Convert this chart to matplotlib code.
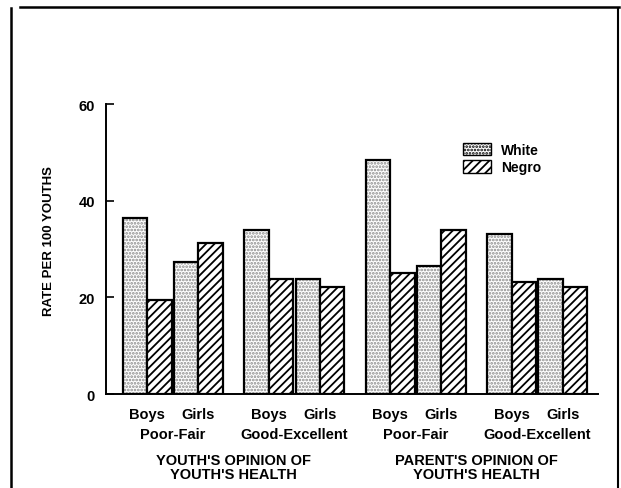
import matplotlib.pyplot as plt
from matplotlib.lines import Line2D
from matplotlib.patches import Patch

plt.rcParams['font.family'] = ['Liberation Sans', 'DejaVu Sans']
plt.rcParams['hatch.linewidth'] = 1.3

# values per group: boys white, boys negro, girls white, girls negro
groups = ['Poor-Fair', 'Good-Excellent', 'Poor-Fair', 'Good-Excellent']
sexes = ['Boys', 'Girls']
white = [36.4, 27.4, 34.0, 23.8, 48.4, 26.4, 33.1, 23.9]
negro = [19.5, 31.2, 23.8, 22.2, 25.0, 34.0, 23.1, 22.2]
panels = ["YOUTH'S OPINION OF\nYOUTH'S HEALTH", "PARENT'S OPINION OF\nYOUTH'S HEALTH"]

DOTS = '.....'
STRIPES = '////'

fig = plt.figure(figsize=(6.21, 4.89), dpi=100)
ax = fig.add_axes([0.1707, 0.1922, 0.963 - 0.1707, 0.785 - 0.1922])

# bar left edges, width 1: 4 bars per group, groups 5 apart
xw, xn = [], []
for g in range(4):
    for s, off in enumerate([0.0, 2.1]):
        xw.append(5 * g + off)
        xn.append(5 * g + off + 1)

# stipple in grey, then black outlines on top
ax.bar(xw, white, width=1, align='edge', color='white', edgecolor='#8a8a8a',
       hatch=DOTS, linewidth=0)
ax.bar(xw, white, width=1, align='edge', fill=False, edgecolor='black', linewidth=1.6)
ax.bar(xn, negro, width=1, align='edge', color='white', edgecolor='black',
       hatch=STRIPES, linewidth=1.6)

ax.set_xlim(-0.7, 19.55)
ax.set_ylim(0, 60)
ax.set_yticks([0, 20, 40, 60])
ax.tick_params(axis='y', direction='in', length=6, width=1.2, pad=8, labelsize=10.5)
ax.set_yticklabels(['0', '20', '40', '60'], fontweight='bold')
ax.set_xticks([])
for sp in ['top', 'right']:
    ax.spines[sp].set_visible(False)
ax.spines['left'].set_linewidth(1.4)
ax.spines['bottom'].set_linewidth(1.4)

ax.set_ylabel('RATE PER 100 YOUTHS', fontsize=9.5, fontweight='bold')
ax.yaxis.set_label_coords(-0.104, 0.53)

# category labels below axis
trans = ax.get_xaxis_transform()
for g in range(4):
    for s, off in enumerate([0.0, 2.1]):
        ax.text(5 * g + off + 1, -0.045, sexes[s], transform=trans, ha='center', va='top',
                fontsize=10.5, fontweight='bold')
    ax.text(5 * g + 2.05, -0.115, groups[g], transform=trans, ha='center', va='top',
            fontsize=10.5, fontweight='bold')
for p in range(2):
    ax.text(10 * p + 4.55, -0.205, panels[p], transform=trans, ha='center', va='top',
            fontsize=10.5, fontweight='bold', linespacing=1.0)

handles = [Patch(facecolor='white', edgecolor='black', hatch=DOTS, label='White'),
           Patch(facecolor='white', edgecolor='black', hatch=STRIPES, label='Negro')]
ax.legend(handles=handles, loc='upper left', bbox_to_anchor=(0.712, 0.89), frameon=False,
          prop={'size': 10, 'weight': 'bold'}, handlelength=2.0, handleheight=1.0,
          handletextpad=0.7, labelspacing=0.25, borderpad=0)

# page frame
fig.add_artist(Line2D([11 / 621, 11 / 621], [0, 1 - 9 / 489], color='black', lw=1.8))
fig.add_artist(Line2D([20 / 621, 619 / 621], [1 - 8 / 489, 1 - 8 / 489], color='black', lw=1.8))
fig.add_artist(Line2D([618 / 621, 618 / 621], [0, 1 - 10 / 489], color='black', lw=1.5))

fig.savefig('out.png', dpi=100)
